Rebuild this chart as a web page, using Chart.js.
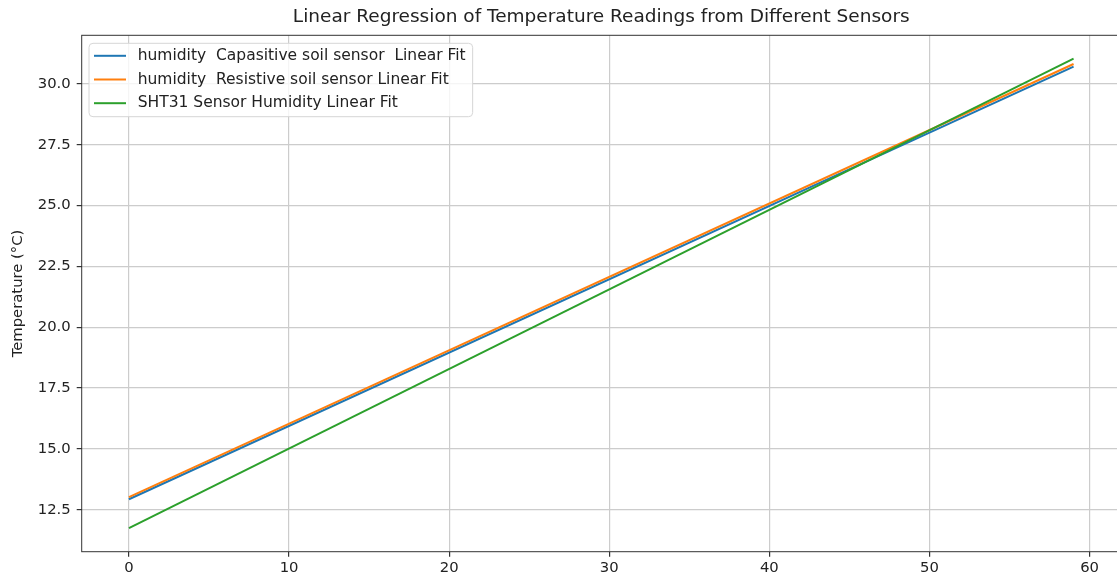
<!DOCTYPE html>
<html lang="en">

<head>
    <meta charset="UTF-8">
    <title>Linear Regression of Temperature Readings</title>
    <script src="https://cdn.jsdelivr.net/npm/chart.js"></script>
    <style>
        html, body { margin: 0; padding: 0; background: #fff; overflow: hidden; }
        .graph { position: relative; width: 1122px; height: 579px; }
    </style>
</head>

<body>
    <div class="graph">
        <canvas id="myChartCanvas"></canvas>
    </div>
</body>

</html>

<script>
    // endpoints of each linear fit (x = reading index)
    const fitX = [0, 59];
    const capasitiveFit = [12.93, 30.71];
    const resistiveFit = [13.02, 30.82];
    const sht31Fit = [11.74, 31.04];

    const seriesLabels = [
        'humidity  Capasitive soil sensor  Linear Fit',
        'humidity  Resistive soil sensor Linear Fit',
        'SHT31 Sensor Humidity Linear Fit'
    ];
    const seriesColors = ['#1f77b4', '#ff7f0e', '#2ca02c'];

    const xTicks = [0, 10, 20, 30, 40, 50, 60];
    const yTicks = [12.5, 15.0, 17.5, 20.0, 22.5, 25.0, 27.5, 30.0];

    const fonte = "'DejaVu Sans', sans-serif";
    const corTexto = '#222';

    function pontos(ys) {
        return fitX.map(function (x, i) { return { x: x, y: ys[i] }; });
    }

    const series = [capasitiveFit, resistiveFit, sht31Fit];

    const dados = {
        datasets: series.map(function (ys, i) {
            return {
                label: seriesLabels[i],
                data: pontos(ys),
                borderColor: seriesColors[i],
                backgroundColor: seriesColors[i],
                borderWidth: 2,
                pointRadius: 0,
                showLine: true,
                order: 3 - i
            };
        })
    };

    // legenda dentro do gráfico + moldura dos eixos (estilo matplotlib)
    const molduraELegenda = {
        id: 'molduraELegenda',
        afterDatasetsDraw(chart) {
            const ctx = chart.ctx;
            const a = chart.chartArea;
            ctx.save();
            ctx.strokeStyle = '#333';
            ctx.lineWidth = 1;
            ctx.strokeRect(a.left, a.top, a.right - a.left, a.bottom - a.top);

            // legenda
            ctx.font = '15.5px ' + fonte;
            const labels = chart.data.datasets.map(function (d) { return d.label; });
            let maxW = 0;
            labels.forEach(function (t) { maxW = Math.max(maxW, ctx.measureText(t).width); });
            const bx = a.left + 7.3;
            const by = a.top + 8;
            const bw = 48.7 + maxW + 7;
            const bh = 73.4;
            ctx.beginPath();
            ctx.roundRect(bx, by, bw, bh, 4);
            ctx.fillStyle = 'rgba(255,255,255,0.8)';
            ctx.fill();
            ctx.strokeStyle = '#d6d6d6';
            ctx.stroke();

            chart.data.datasets.forEach(function (d, i) {
                const y = by + 12.5 + i * 23.7;
                ctx.beginPath();
                ctx.moveTo(bx + 5, y);
                ctx.lineTo(bx + 37, y);
                ctx.strokeStyle = d.borderColor;
                ctx.lineWidth = 2;
                ctx.stroke();
                ctx.fillStyle = corTexto;
                ctx.textBaseline = 'middle';
                ctx.textAlign = 'left';
                ctx.fillText(d.label, bx + 48.7, y);
            });
            ctx.restore();
        }
    };

    const config = {
        type: 'scatter',
        data: dados,
        options: {
            responsive: true,
            maintainAspectRatio: false,
            animation: false,
            layout: { padding: { left: 0, top: 0, right: 1.2, bottom: 0 } },
            plugins: {
                legend: { display: false },
                tooltip: { enabled: false },
                title: {
                    display: true,
                    fullSize: false,
                    text: 'Linear Regression of Temperature Readings from Different Sensors',
                    color: corTexto,
                    font: { family: fonte, size: 18.5, weight: 'normal' },
                    padding: { top: 6, bottom: 7.1 }
                }
            },
            scales: {
                x: {
                    type: 'linear',
                    min: -2.95,
                    max: 61.95,
                    afterBuildTicks: function (scale) {
                        scale.ticks = xTicks.map(function (v) { return { value: v }; });
                    },
                    afterFit: function (scale) { scale.height = 27.3; },
                    border: { display: false },
                    grid: { color: '#cccccc', lineWidth: 1.2, tickLength: 5, tickColor: '#333' },
                    ticks: {
                        color: corTexto,
                        font: { family: fonte, size: 14.8 },
                        padding: 3,
                        maxRotation: 0,
                        callback: function (v) { return v; }
                    }
                },
                y: {
                    type: 'linear',
                    min: 10.775,
                    max: 32.0,
                    afterBuildTicks: function (scale) {
                        scale.ticks = yTicks.map(function (v) { return { value: v }; });
                    },
                    afterFit: function (scale) { scale.width = 81.7; },
                    border: { display: false },
                    grid: { color: '#cccccc', lineWidth: 1.2, tickLength: 5, tickColor: '#333' },
                    ticks: {
                        color: corTexto,
                        font: { family: fonte, size: 14.8 },
                        padding: 6,
                        callback: function (v) { return Number(v).toFixed(1); }
                    },
                    title: {
                        display: true,
                        text: 'Temperature (°C)',
                        color: corTexto,
                        font: { family: fonte, size: 14.8 },
                        padding: { top: 9, bottom: 0 }
                    }
                }
            }
        },
        plugins: [molduraELegenda]
    };

    let myChart = new Chart(
        document.getElementById('myChartCanvas'),
        config
    );
</script>
